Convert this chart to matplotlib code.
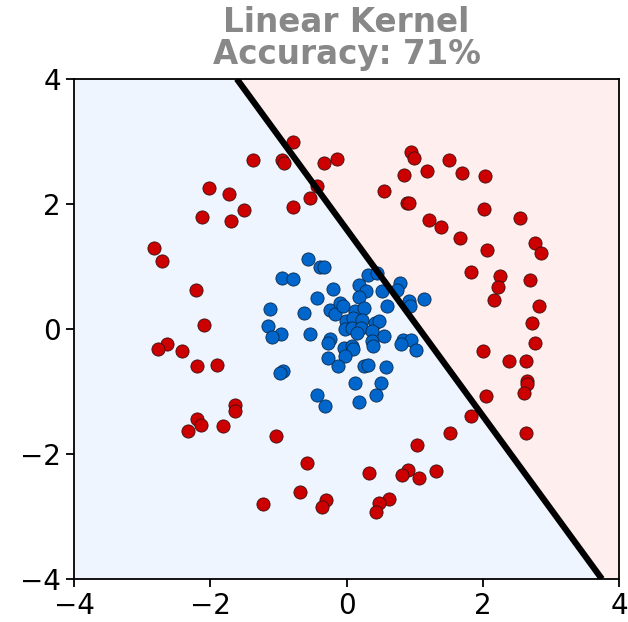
import numpy as np
import matplotlib
matplotlib.use("Agg")
import matplotlib.pyplot as plt

# Outer ring (class 1)
red_x = [-0.79, -1.37, -0.95, -0.92, -0.33, -0.14, -0.43, -0.54, -0.79, -2.02,
         -1.73, -1.51, -2.12, -1.70, -2.83, -2.71, -2.21, -2.09, -2.64, -2.76,
         -2.42, -2.20, -1.90, -1.63, -1.63, -2.20, -2.14, -2.32, -1.82, -1.03,
         -0.58, -0.68, -1.22, -0.30, -0.36,
         0.95, 0.99, 1.50, 0.84, 1.18, 1.70, 2.03, 0.55, 0.89, 0.92,
         2.02, 2.54, 1.21, 1.39, 1.67, 2.77, 2.86, 2.06, 1.83, 2.25,
         2.22, 2.17, 2.69, 2.83, 2.72, 2.77, 2.01,
         2.39, 2.64, 2.65, 2.65, 2.61, 2.05, 1.82, 2.63, 1.52, 1.03,
         0.33, 0.90, 0.82, 1.06, 1.32, 0.63, 0.47, 0.43]
red_y = [2.99, 2.70, 2.71, 2.66, 2.66, 2.72, 2.28, 2.09, 1.95, 2.26,
         2.16, 1.91, 1.79, 1.73, 1.29, 1.08, 0.62, 0.06, -0.24, -0.32,
         -0.36, -0.60, -0.58, -1.22, -1.32, -1.44, -1.54, -1.64, -1.56, -1.71,
         -2.15, -2.61, -2.80, -2.74, -2.84,
         2.83, 2.73, 2.70, 2.46, 2.52, 2.49, 2.45, 2.21, 2.01, 2.01,
         1.92, 1.77, 1.75, 1.63, 1.46, 1.38, 1.22, 1.27, 0.91, 0.85,
         0.67, 0.46, 0.78, 0.36, 0.09, -0.23, -0.36,
         -0.51, -0.51, -0.84, -0.88, -1.03, -1.08, -1.39, -1.66, -1.66, -1.86,
         -2.31, -2.25, -2.34, -2.38, -2.27, -2.72, -2.78, -2.92]

# Inner cluster (class 0)
blue_x = [-0.56, -0.39, -0.33, -0.94, -0.78, 0.32, 0.44, 0.78, 0.74, 0.52,
          0.19, 0.29, -0.20, -0.43, 0.18, 0.92, 0.93, 1.14, 0.59, -1.12,
          -0.63, -0.24, -0.17, -0.10, -0.05, 0.12, 0.26, -0.01, 0.10, 0.22,
          0.42, 0.48, -0.02, 0.08, 0.21, 0.15, 0.38, -1.15, -0.96, -1.10,
          -0.54, -0.24, -0.27, -0.03, 0.08, 0.10, -0.02, 0.38, 0.39, 0.55,
          0.83, 0.94, 0.80, 1.02, -0.27, -0.13, 0.25, 0.32, 0.58, -0.93,
          -0.98, 0.13, 0.51, -0.44, 0.43, 0.19, -0.32]
blue_y = [1.12, 0.99, 0.99, 0.81, 0.80, 0.86, 0.89, 0.74, 0.62, 0.61,
          0.71, 0.61, 0.64, 0.49, 0.51, 0.45, 0.36, 0.48, 0.36, 0.32,
          0.26, 0.31, 0.24, 0.41, 0.36, 0.29, 0.34, 0.13, 0.17, 0.14,
          0.10, 0.13, 0.00, 0.01, 0.01, -0.07, -0.03, 0.04, -0.08, -0.13,
          -0.08, -0.16, -0.23, -0.31, -0.28, -0.32, -0.43, -0.20, -0.27, -0.11,
          -0.18, -0.18, -0.24, -0.34, -0.47, -0.59, -0.60, -0.58, -0.61, -0.68,
          -0.71, -0.87, -0.86, -1.05, -1.05, -1.17, -1.23]

# Linear decision function: w0*x + w1*y + b
w = [1.493, 1.0]
b = -1.596

title = "Linear Kernel\nAccuracy: 71%"
lim = (-4, 4)
ticks = [-4, -2, 0, 2, 4]

fig = plt.figure(figsize=(6.28, 6.22), dpi=100)
ax = fig.add_axes([0.1178, 0.0691, 0.868, 0.804])

gx, gy = np.meshgrid(np.linspace(lim[0], lim[1], 400), np.linspace(lim[0], lim[1], 400))
gz = w[0] * gx + w[1] * gy + b
ax.contourf(gx, gy, gz, levels=[-100, 0, 100], colors=["#eef5ff", "#ffeeee"], zorder=0)

ax.scatter(red_x, red_y, s=90, c="#cc0000", edgecolors="#3a1010", linewidths=0.6, zorder=2)
ax.scatter(blue_x, blue_y, s=90, c="#0066cc", edgecolors="#0a2a4a", linewidths=0.6, zorder=2)

ax.contour(gx, gy, gz, levels=[0], colors="black", linewidths=4.5, zorder=3)

ax.set_xlim(*lim)
ax.set_ylim(*lim)
ax.set_xticks(ticks)
ax.set_yticks(ticks)
ax.tick_params(labelsize=20, length=6, width=1.3)
for sp in ax.spines.values():
    sp.set_linewidth(1.3)

ax.set_title(title, fontsize=23.5, fontweight="bold", color="#888888",
             linespacing=0.95, pad=11)

fig.savefig("out.png", dpi=100)
